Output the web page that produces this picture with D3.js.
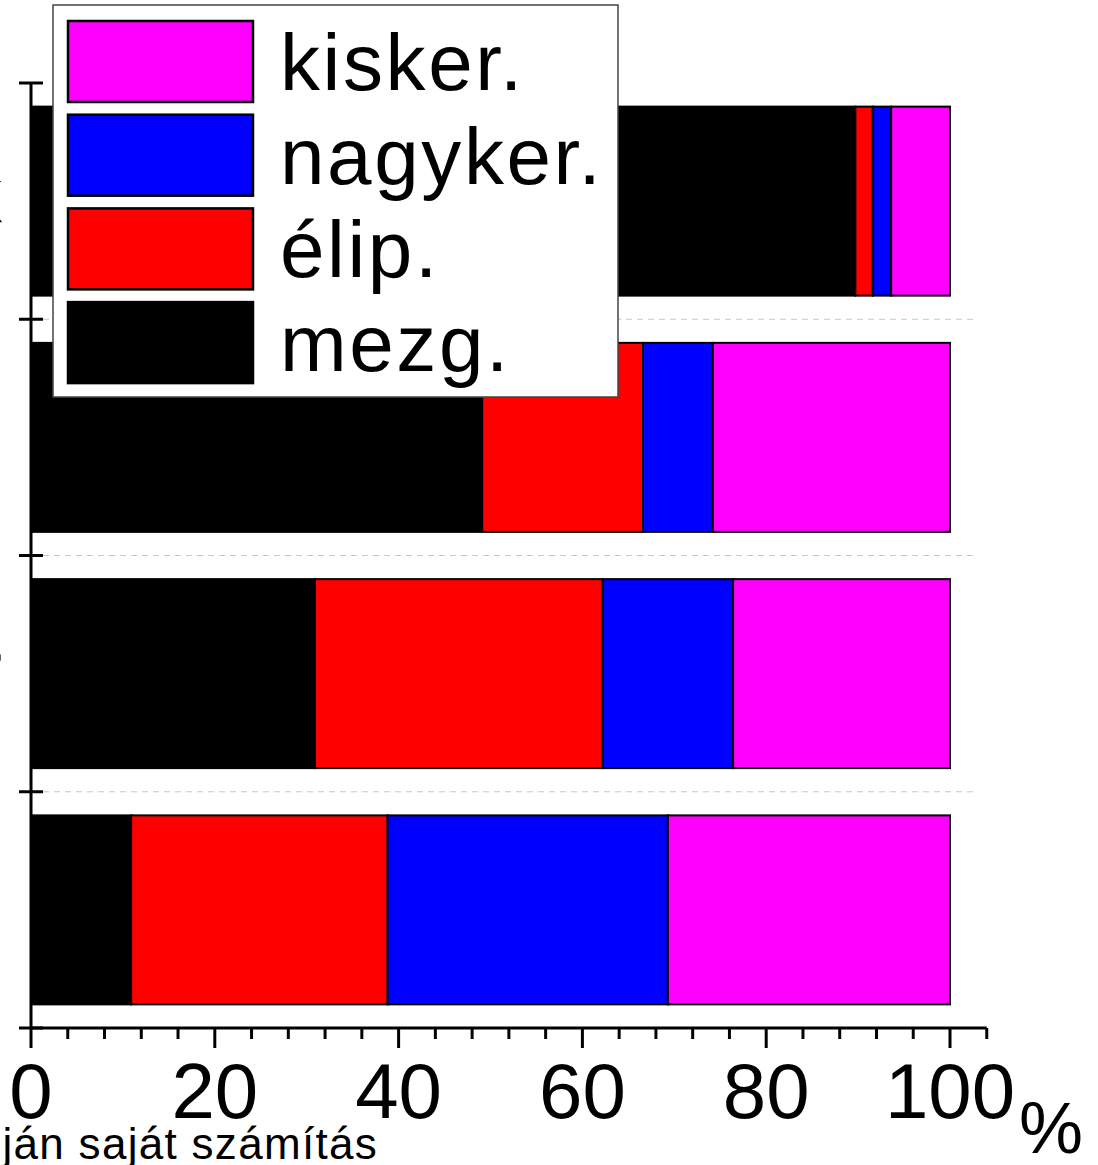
<!DOCTYPE html>
<html>
<head>
<meta charset="utf-8">
<script src="https://cdn.jsdelivr.net/npm/d3@7"></script>
<style>
  body { margin: 0; background: #fff; }
  svg { display: block; font-family: "Liberation Sans", Arial, sans-serif; }
</style>
</head>
<body>
<svg id="drawing_region"></svg>
<script>
// categories top to bottom (labels are cut off at the left edge of the picture)
const categories = ["barack", "kakaó", "kenyér", "tejföl"];
const seriesKeys = ["mezg.", "élip.", "nagyker.", "kisker."];
const mezg    = [89.7, 49.1, 30.9, 10.9];
const elip    = [1.9, 17.5, 31.3, 27.9];
const nagyker = [2.0, 7.6, 14.2, 30.5];
const kisker  = [6.4, 25.8, 23.6, 30.7];
const seriesColors = ["#000000", "#ff0000", "#0000ff", "#ff00ff"];
const xMajorTicks = [0, 20, 40, 60, 80, 100];
const xMinorTicks = d3.range(0, 105, 4);
const sourceText = "Forrás: KSH adatai alapján saját számítás";

const data = categories.map((c, i) => ({
    cat: c,
    "mezg.": mezg[i], "élip.": elip[i], "nagyker.": nagyker[i], "kisker.": kisker[i]
}));

const W = 1098, H = 1165;
const svg = d3.select('#drawing_region').attr('width', W).attr('height', H);

const xscale = d3.scaleLinear().domain([0, 100]).range([31, 950]);
const yscale = d3.scaleBand().domain(categories).range([83, 1028])
    .paddingInner(0.2).paddingOuter(0.1);
const yedge = d3.scaleLinear().domain([0, categories.length]).range([83, 1028]);
const color = d3.scaleOrdinal().domain(seriesKeys).range(seriesColors);

// dashed separators
svg.append('g').selectAll('line')
    .data(d3.range(1, categories.length))
    .join('line')
    .attr('x1', 43).attr('x2', 978)
    .attr('y1', d => yedge(d)).attr('y2', d => yedge(d))
    .attr('stroke', '#c8c8c8').attr('stroke-width', 1)
    .attr('stroke-dasharray', '6,5');

// stacked bars
const stacked = d3.stack().keys(seriesKeys)(data);
svg.append('g').selectAll('g')
    .data(stacked)
    .join('g')
    .attr('fill', d => color(d.key))
    .selectAll('rect')
    .data(d => d)
    .join('rect')
    .attr('x', d => xscale(d[0]))
    .attr('y', d => yscale(d.data.cat))
    .attr('width', d => xscale(d[1]) - xscale(d[0]))
    .attr('height', yscale.bandwidth())
    .attr('stroke', '#000').attr('stroke-width', 2);

// category labels
svg.append('g').selectAll('text')
    .data(categories)
    .join('text')
    .attr('x', 2)
    .attr('y', d => yscale(d) + yscale.bandwidth() / 2 + 22)
    .attr('text-anchor', 'end')
    .style('font-size', '77px')
    .text(d => d);

// y axis
const yaxis = svg.append('g');
yaxis.append('line')
    .attr('x1', 31).attr('x2', 31).attr('y1', yedge(0)).attr('y2', yedge(categories.length))
    .attr('stroke', '#000').attr('stroke-width', 3);
yaxis.selectAll('line.tick')
    .data(d3.range(0, categories.length + 1))
    .join('line')
    .attr('class', 'tick')
    .attr('x1', 19).attr('x2', 43)
    .attr('y1', d => yedge(d)).attr('y2', d => yedge(d))
    .attr('stroke', '#000').attr('stroke-width', 3);

// x axis
const xaxis = svg.append('g');
xaxis.append('line')
    .attr('x1', xscale(0)).attr('x2', xscale(104))
    .attr('y1', 1028).attr('y2', 1028)
    .attr('stroke', '#000').attr('stroke-width', 3);
xaxis.selectAll('line.minor')
    .data(xMinorTicks)
    .join('line')
    .attr('class', 'minor')
    .attr('x1', d => xscale(d)).attr('x2', d => xscale(d))
    .attr('y1', 1028).attr('y2', d => xMajorTicks.includes(d) ? 1048 : 1039)
    .attr('stroke', '#000').attr('stroke-width', 3);
xaxis.selectAll('text')
    .data(xMajorTicks)
    .join('text')
    .attr('x', d => xscale(d))
    .attr('y', 1118)
    .attr('text-anchor', 'middle')
    .style('font-size', '78px')
    .text(d => d);
svg.append('text')
    .attr('x', 1019).attr('y', 1153)
    .style('font-size', '72px')
    .text('%');

// source note
svg.append('text')
    .attr('x', 378).attr('y', 1159)
    .attr('text-anchor', 'end')
    .style('font-size', '44px')
    .style('letter-spacing', '1.3px')
    .text(sourceText);

// legend
const legendKeys = seriesKeys.slice().reverse();
const legend = svg.append('g');
legend.append('rect')
    .attr('x', 53).attr('y', 5).attr('width', 565).attr('height', 392)
    .attr('fill', '#fff').attr('stroke', '#444').attr('stroke-width', 1.5);
const items = legend.selectAll('g.item')
    .data(legendKeys)
    .join('g')
    .attr('class', 'item')
    .attr('transform', (d, i) => `translate(0, ${21 + i * 93.7})`);
items.append('rect')
    .attr('x', 68).attr('y', 0).attr('width', 185).attr('height', 81)
    .attr('fill', d => color(d))
    .attr('stroke', '#000').attr('stroke-width', 2.5);
items.append('text')
    .attr('x', 280).attr('y', 69)
    .style('font-size', '80px')
    .style('letter-spacing', '2.6px')
    .text(d => d);
</script>
</body>
</html>
